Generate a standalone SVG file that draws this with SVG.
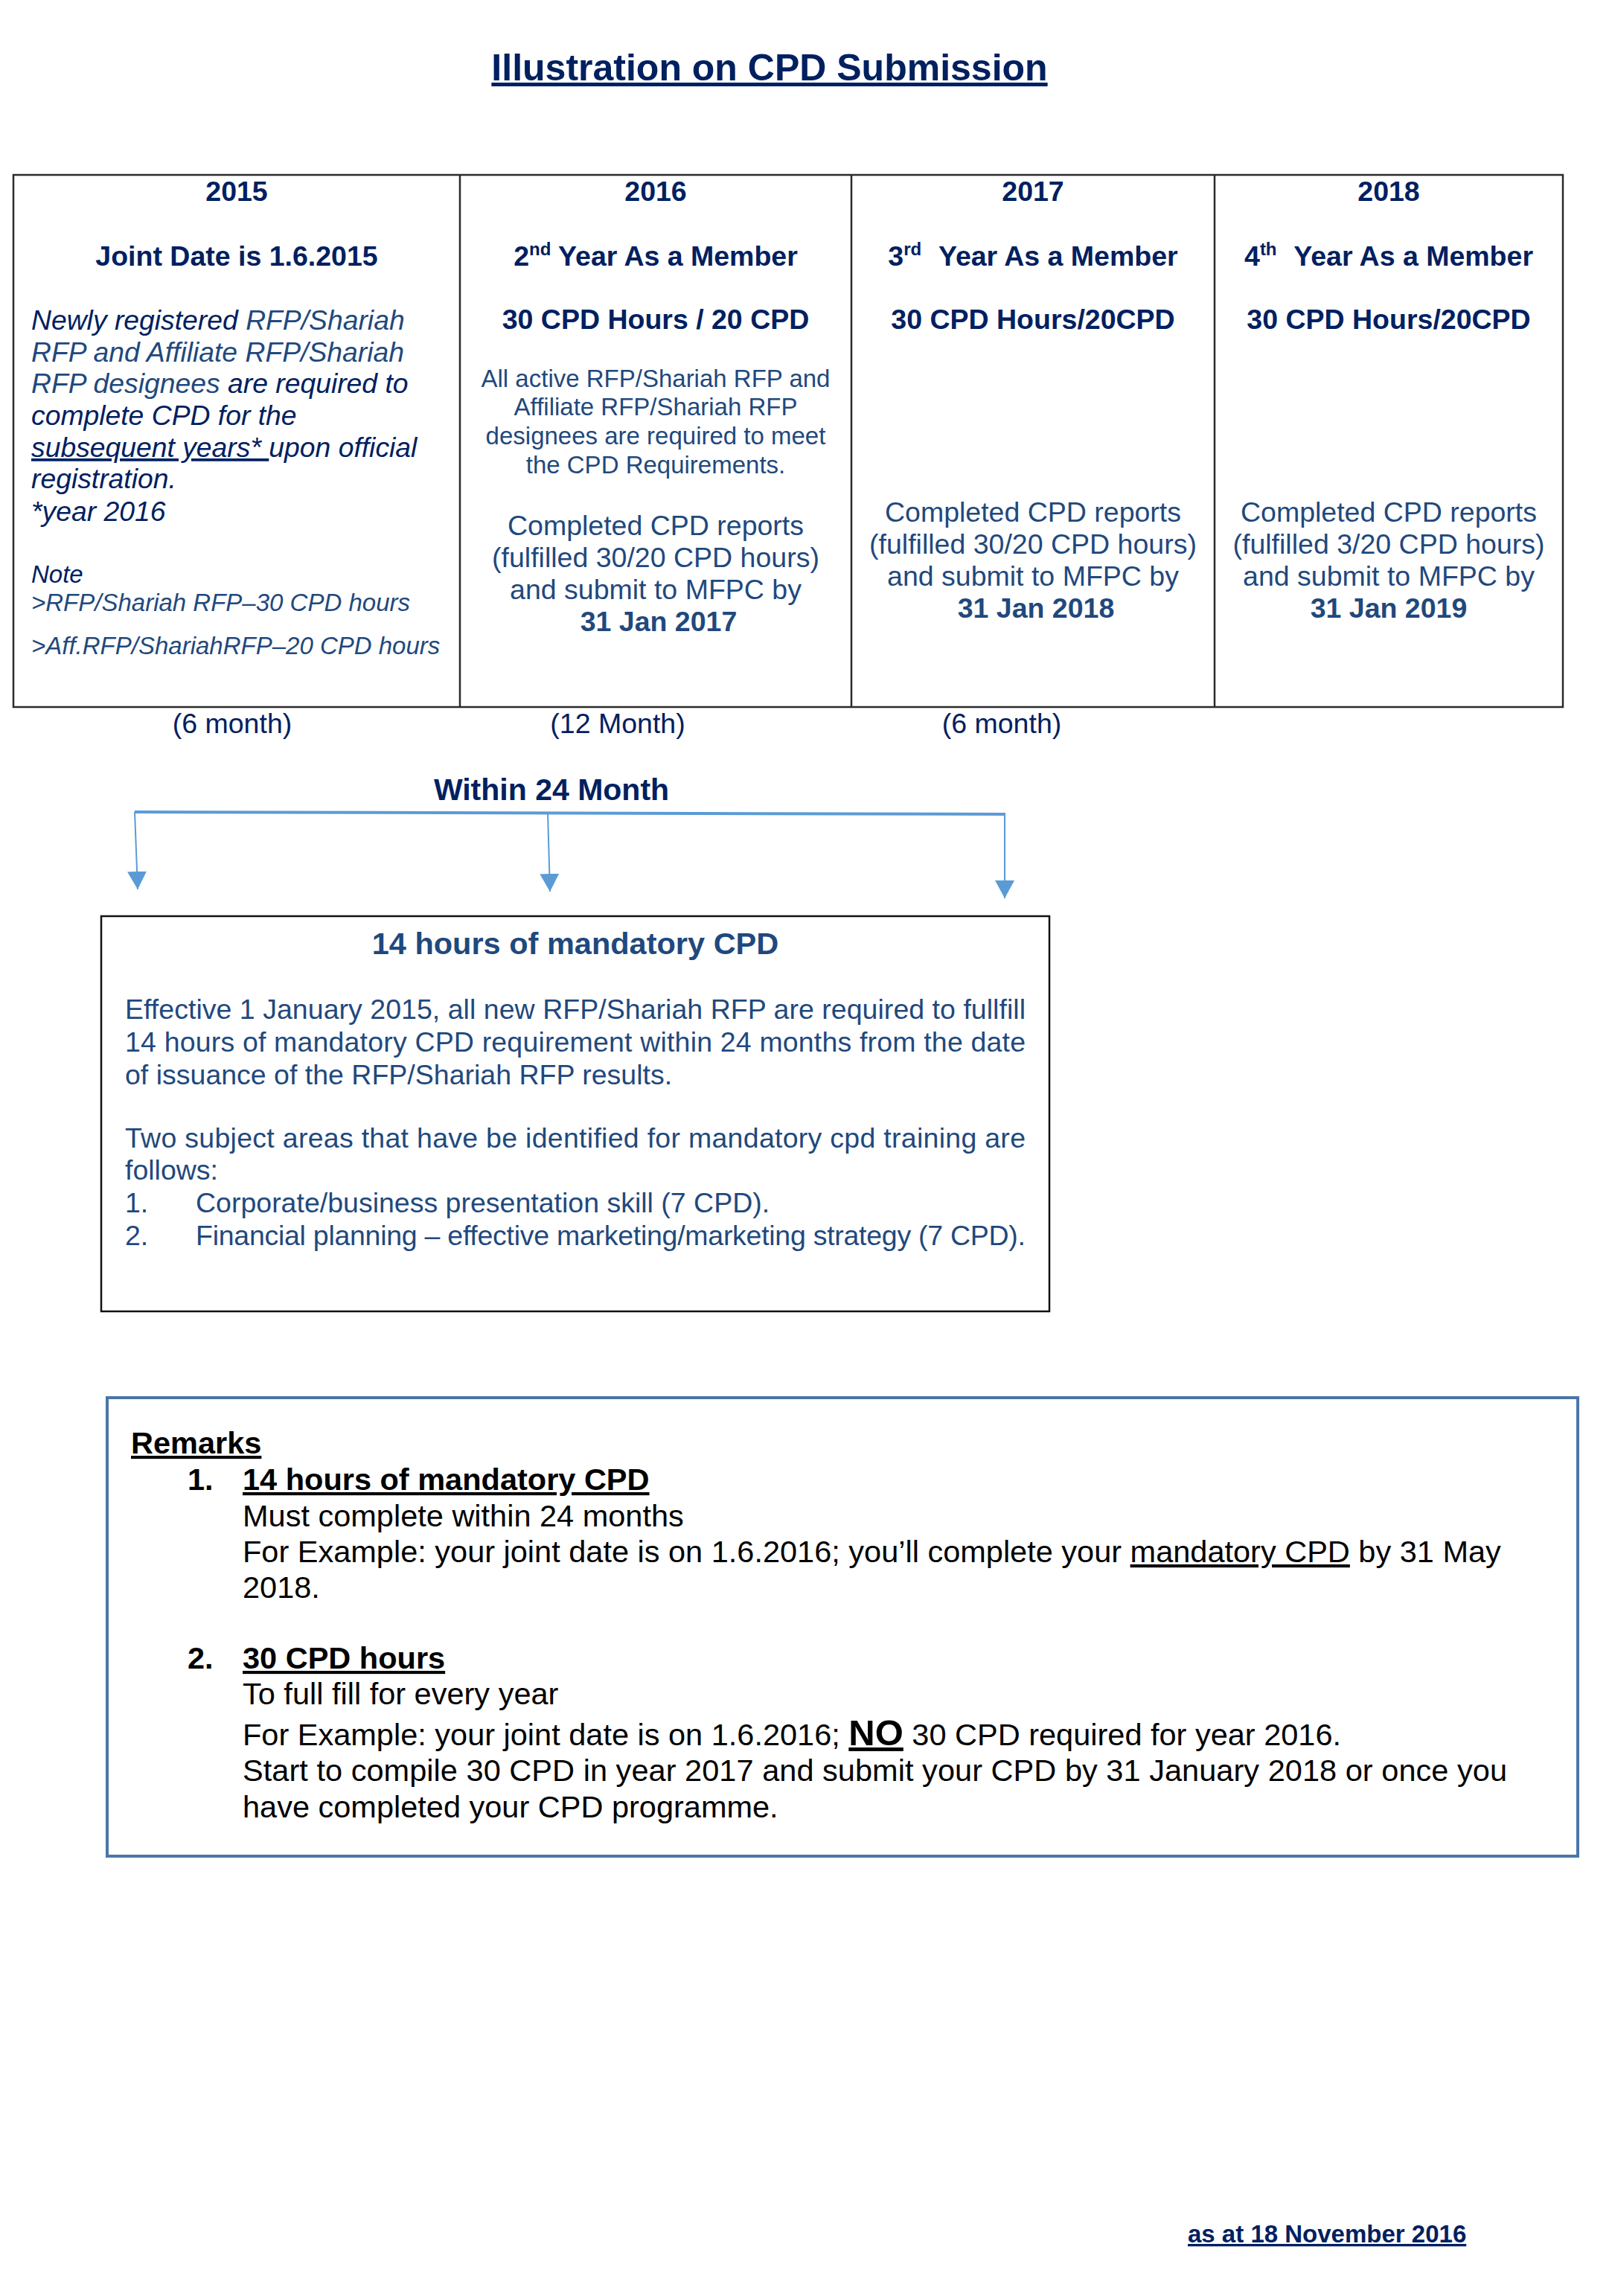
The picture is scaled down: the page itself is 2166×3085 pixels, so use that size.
<svg xmlns="http://www.w3.org/2000/svg" width="2166" height="3085" viewBox="0 0 2166 3085">
<style>
text{font-family:"Liberation Sans",Arial,sans-serif}
.b{font-weight:bold}
.i{font-style:italic}
.dk{fill:#002060}
.lt{fill:#1F497D}
.bk{fill:#000000}
.u{text-decoration:underline}
.h{font-size:37.5px;font-weight:bold;fill:#002060}
.c1{font-size:37.3px;font-style:italic}
.note{font-size:33px;font-style:italic}
.sm{font-size:33px;fill:#1F497D}
.md{font-size:37.5px;fill:#1F497D}
.mb{font-size:37.5px;fill:#1F497D}
.rm{font-size:41.5px;fill:#000000}
.grid{fill:none;stroke:#2b2b2b;stroke-width:2.5}
.conn{fill:none;stroke:#5B9BD5}
</style>
<defs>
<marker id="arr" markerUnits="userSpaceOnUse" viewBox="0 0 24 26" markerWidth="24" markerHeight="26" refX="24" refY="13" orient="auto">
<path d="M0,0 L24,13 L0,26 z" fill="#5B9BD5"/>
</marker>
</defs>
<rect x="0" y="0" width="2166" height="3085" fill="#ffffff"/>

<g id="title">
<text x="1034" y="108" text-anchor="middle" class="b dk u" font-size="50">Illustration on CPD Submission</text>
</g>

<g id="table">
<rect class="grid" x="18" y="235" width="2082" height="715"/>
<line class="grid" x1="618" y1="235" x2="618" y2="950"/>
<line class="grid" x1="1144" y1="235" x2="1144" y2="950"/>
<line class="grid" x1="1632" y1="235" x2="1632" y2="950"/>
</g>

<g id="col-2015">
<text x="318" y="270" text-anchor="middle" class="h">2015</text>
<text x="318" y="357" text-anchor="middle" class="h">Joint Date is 1.6.2015</text>
<text x="42" y="443" class="c1"><tspan class="dk">Newly registered </tspan><tspan class="lt">RFP/Shariah</tspan></text>
<text x="42" y="486" class="c1 lt">RFP and Affiliate RFP/Shariah</text>
<text x="42" y="528" class="c1"><tspan class="lt">RFP designees</tspan><tspan class="dk"> are required to</tspan></text>
<text x="42" y="571" class="c1 dk">complete CPD for the</text>
<text x="42" y="614" class="c1 dk" xml:space="preserve"><tspan class="u">subsequent years* </tspan>upon official</text>
<text x="42" y="656" class="c1 dk">registration.</text>
<text x="42" y="700" class="c1 dk">*year 2016</text>
<text x="42" y="783" class="note dk">Note</text>
<text x="42" y="821" class="note lt">&gt;RFP/Shariah RFP–30 CPD hours</text>
<text x="42" y="879" class="note lt">&gt;Aff.RFP/ShariahRFP–20 CPD hours</text>
</g>

<g id="col-2016">
<text x="881" y="270" text-anchor="middle" class="h">2016</text>
<text x="881" y="357" text-anchor="middle" class="h">2<tspan font-size="24" dy="-14">nd</tspan><tspan dy="14"> Year As a Member</tspan></text>
<text x="881" y="442" text-anchor="middle" class="h">30 CPD Hours / 20 CPD</text>
<text x="881" y="520" text-anchor="middle" class="sm">All active RFP/Shariah RFP and</text>
<text x="881" y="558" text-anchor="middle" class="sm">Affiliate RFP/Shariah RFP</text>
<text x="881" y="597" text-anchor="middle" class="sm">designees are required to meet</text>
<text x="881" y="636" text-anchor="middle" class="sm">the CPD Requirements.</text>
<text x="881" y="719" text-anchor="middle" class="md">Completed CPD reports</text>
<text x="881" y="762" text-anchor="middle" class="md">(fulfilled 30/20 CPD hours)</text>
<text x="881" y="805" text-anchor="middle" class="md">and submit to MFPC by</text>
<text x="885" y="848" text-anchor="middle" class="md b">31 Jan 2017</text>
</g>

<g id="col-2017">
<text x="1388" y="270" text-anchor="middle" class="h">2017</text>
<text x="1388" y="357" text-anchor="middle" class="h">3<tspan font-size="24" dy="-14">rd</tspan><tspan dy="14" dx="13"> Year As a Member</tspan></text>
<text x="1388" y="442" text-anchor="middle" class="h">30 CPD Hours/20CPD</text>
<text x="1388" y="701" text-anchor="middle" class="md">Completed CPD reports</text>
<text x="1388" y="744" text-anchor="middle" class="md">(fulfilled 30/20 CPD hours)</text>
<text x="1388" y="787" text-anchor="middle" class="md">and submit to MFPC by</text>
<text x="1392" y="830" text-anchor="middle" class="md b">31 Jan 2018</text>
</g>

<g id="col-2018">
<text x="1866" y="270" text-anchor="middle" class="h">2018</text>
<text x="1866" y="357" text-anchor="middle" class="h">4<tspan font-size="24" dy="-14">th</tspan><tspan dy="14" dx="13"> Year As a Member</tspan></text>
<text x="1866" y="442" text-anchor="middle" class="h">30 CPD Hours/20CPD</text>
<text x="1866" y="701" text-anchor="middle" class="md">Completed CPD reports</text>
<text x="1866" y="744" text-anchor="middle" class="md">(fulfilled 3/20 CPD hours)</text>
<text x="1866" y="787" text-anchor="middle" class="md">and submit to MFPC by</text>
<text x="1866" y="830" text-anchor="middle" class="md b">31 Jan 2019</text>
</g>

<g id="period-labels">
<text x="312" y="985" text-anchor="middle" class="dk" font-size="37.5">(6 month)</text>
<text x="830" y="985" text-anchor="middle" class="dk" font-size="37.5">(12 Month)</text>
<text x="1346" y="985" text-anchor="middle" class="dk" font-size="37.5">(6 month)</text>
<text x="741" y="1075" text-anchor="middle" class="b dk" font-size="41">Within 24 Month</text>
</g>

<g id="connectors">
<line class="conn" x1="181" y1="1091" x2="1351" y2="1094" stroke-width="4"/>
<line class="conn" x1="181" y1="1091" x2="185" y2="1195" stroke-width="2" marker-end="url(#arr)"/>
<line class="conn" x1="736" y1="1092" x2="739" y2="1198" stroke-width="2" marker-end="url(#arr)"/>
<line class="conn" x1="1350" y1="1094" x2="1350" y2="1207" stroke-width="2" marker-end="url(#arr)"/>
</g>

<g id="mandatory-box">
<rect x="136" y="1231" width="1274" height="531" fill="#ffffff" stroke="#111111" stroke-width="2.5"/>
<text x="773" y="1282" text-anchor="middle" class="b lt" font-size="41.5">14 hours of mandatory CPD</text>
<text x="168" y="1369" class="mb" textLength="1210" lengthAdjust="spacing">Effective 1 January 2015, all new RFP/Shariah RFP are required to fullfill</text>
<text x="168" y="1413" class="mb" textLength="1210" lengthAdjust="spacing">14 hours of mandatory CPD requirement within 24 months from the date</text>
<text x="168" y="1457" class="mb">of issuance of the RFP/Shariah RFP results.</text>
<text x="168" y="1542" class="mb" textLength="1210" lengthAdjust="spacing">Two subject areas that have be identified for mandatory cpd training are</text>
<text x="168" y="1585" class="mb">follows:</text>
<text x="168" y="1629" class="mb">1.</text>
<text x="263" y="1629" class="mb">Corporate/business presentation skill (7 CPD).</text>
<text x="168" y="1673" class="mb">2.</text>
<text x="263" y="1673" class="mb" textLength="1115" lengthAdjust="spacing">Financial planning – effective marketing/marketing strategy (7 CPD).</text>
</g>

<g id="remarks-box">
<rect x="144" y="1878" width="1976" height="616" fill="#ffffff" stroke="#4A76A8" stroke-width="4"/>
<text x="176" y="1953" class="rm b u">Remarks</text>
<text x="252" y="2002" class="rm b">1.</text>
<text x="326" y="2002" class="rm b u">14 hours of mandatory CPD</text>
<text x="326" y="2051" class="rm">Must complete within 24 months</text>
<text x="326" y="2099" class="rm">For Example: your joint date is on 1.6.2016; you’ll complete your <tspan class="u">mandatory CPD</tspan> by 31 May</text>
<text x="326" y="2147" class="rm">2018.</text>
<text x="252" y="2242" class="rm b">2.</text>
<text x="326" y="2242" class="rm b u">30 CPD hours</text>
<text x="326" y="2290" class="rm">To full fill for every year</text>
<text x="326" y="2345" class="rm">For Example: your joint date is on 1.6.2016; <tspan class="b u" font-size="49">NO</tspan> 30 CPD required for year 2016.</text>
<text x="326" y="2393" class="rm" textLength="1699" lengthAdjust="spacing">Start to compile 30 CPD in year 2017 and submit your CPD by 31 January 2018 or once you</text>
<text x="326" y="2442" class="rm">have completed your CPD programme.</text>
</g>

<g id="footer">
<text x="1596" y="3013" class="b dk u" font-size="33">as at 18 November 2016</text>
</g>
</svg>
